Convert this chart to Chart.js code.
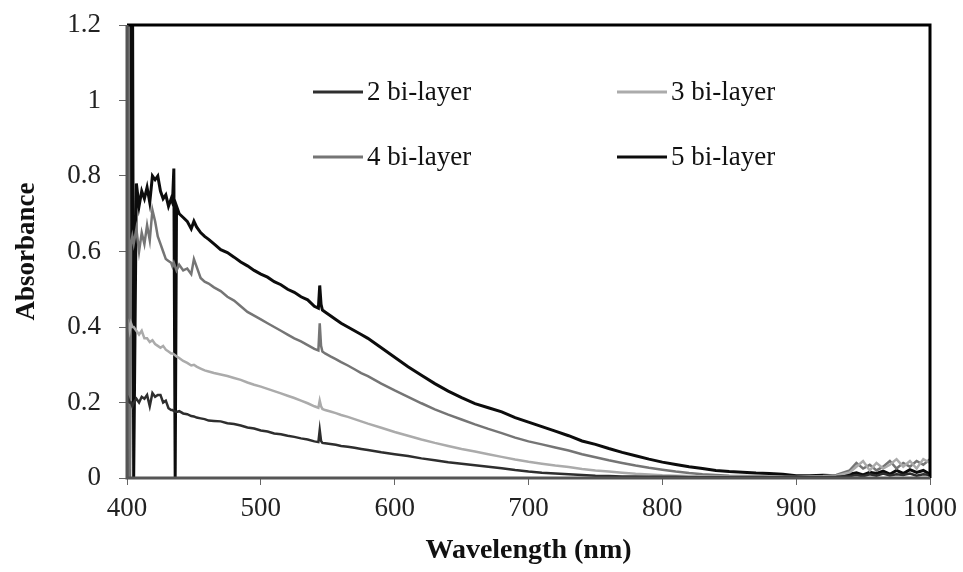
<!DOCTYPE html>
<html>
<head>
<meta charset="utf-8">
<script src="https://cdn.jsdelivr.net/npm/chart.js@4"></script>
<style>
  body { margin: 0; background: #fff; }
  canvas { display: block; }
</style>
</head>
<body>
<canvas id="chart" width="963" height="572"></canvas>
<script>
// Absorbance spectra of multilayer films, 400-1000 nm
const wavelength = [
    400, 401, 402, 403, 404, 405, 407, 409, 411, 413,
    415, 417, 419, 421, 423, 425, 427, 429, 431, 433,
    434, 435, 436, 437, 439, 442, 445, 448, 450, 452,
    455, 458, 461, 465, 470, 475, 480, 485, 490, 495,
    500, 505, 510, 515, 520, 525, 530, 535, 540, 543,
    544, 545, 546, 548, 552, 556, 560, 565, 570, 575,
    580, 590, 600, 610, 620, 630, 640, 650, 660, 670,
    680, 690, 700, 710, 720, 730, 740, 750, 760, 770,
    780, 790, 800, 810, 820, 830, 840, 850, 860, 870,
    880, 890, 900, 910, 920, 930, 940, 945, 950, 955,
    960, 965, 970, 975, 980, 985, 990, 995, 1000
];

const bilayer2 = [
    0.20, 0.21, 0.20, 0.20, 0.19, 0.20, 0.21, 0.20, 0.215, 0.21,
    0.22, 0.19, 0.225, 0.215, 0.22, 0.22, 0.20, 0.205, 0.185, 0.18,
    0.18, 0.178, 0.176, 0.175, 0.177, 0.171, 0.169, 0.164, 0.163, 0.16,
    0.158, 0.156, 0.152, 0.151, 0.150, 0.145, 0.143, 0.139, 0.134, 0.131,
    0.126, 0.123, 0.118, 0.116, 0.112, 0.109, 0.105, 0.102, 0.097, 0.095,
    0.127, 0.098, 0.093, 0.092, 0.090, 0.088, 0.085, 0.083, 0.080, 0.077,
    0.074, 0.068, 0.063, 0.058, 0.052, 0.047, 0.042, 0.038, 0.034, 0.030,
    0.026, 0.021, 0.017, 0.014, 0.012, 0.010, 0.008, 0.006, 0.005, 0.004,
    0.004, 0.003, 0.003, 0.003, 0.002, 0.002, 0.002, 0.002, 0.002, 0.002,
    0.002, 0.002, 0.002, 0.002, 0.002, 0.003, 0.005, 0.008, 0.005, 0.010,
    0.006, 0.012, 0.007, 0.010, 0.008, 0.012, 0.006, 0.010, 0.008
];

const bilayer3 = [
    0.40, 0.41, 0.39, 0.41, 0.40, 0.40, 0.39, 0.38, 0.39, 0.37,
    0.37, 0.36, 0.365, 0.355, 0.35, 0.345, 0.35, 0.34, 0.335, 0.33,
    0.33, 0.328, 0.325, 0.322, 0.318, 0.31, 0.305, 0.298, 0.30, 0.295,
    0.29, 0.285, 0.282, 0.278, 0.274, 0.27, 0.265, 0.26, 0.253, 0.247,
    0.242, 0.236, 0.23, 0.224, 0.218, 0.212, 0.205, 0.198, 0.19, 0.186,
    0.205, 0.19, 0.183, 0.18, 0.176, 0.172, 0.167, 0.162, 0.156, 0.15,
    0.144, 0.133, 0.122, 0.112, 0.102, 0.093, 0.085, 0.077, 0.070, 0.063,
    0.056, 0.049, 0.043, 0.038, 0.033, 0.029, 0.024, 0.020, 0.017, 0.014,
    0.011, 0.009, 0.007, 0.006, 0.005, 0.004, 0.004, 0.003, 0.003, 0.003,
    0.003, 0.002, 0.002, 0.003, 0.004, 0.006, 0.015, 0.030, 0.045, 0.020,
    0.040, 0.025, 0.035, 0.050, 0.030, 0.045, 0.025, 0.050, 0.040
];

const bilayer4 = [
    0.0, 1.5, 0.0, 0.62, 0.64, 0.62, 0.66, 0.60, 0.65, 0.62,
    0.67, 0.63, 0.71, 0.68, 0.64, 0.62, 0.60, 0.58, 0.575, 0.57,
    0.56, 0.57, 0.56, 0.55, 0.565, 0.55, 0.555, 0.54, 0.58, 0.56,
    0.53, 0.52, 0.515, 0.505, 0.495, 0.48, 0.47, 0.455, 0.44, 0.43,
    0.42, 0.41, 0.40, 0.39, 0.38, 0.37, 0.362, 0.352, 0.342, 0.338,
    0.41, 0.35, 0.335, 0.33, 0.322, 0.315, 0.307, 0.298, 0.288, 0.278,
    0.27, 0.25, 0.232, 0.215, 0.198, 0.182, 0.168, 0.155, 0.142, 0.13,
    0.119, 0.107, 0.097, 0.089, 0.081, 0.073, 0.063, 0.055, 0.047, 0.040,
    0.033, 0.027, 0.022, 0.017, 0.013, 0.010, 0.008, 0.006, 0.005, 0.005,
    0.004, 0.004, 0.003, 0.004, 0.005, 0.008, 0.020, 0.040, 0.025, 0.035,
    0.020, 0.030, 0.045, 0.025, 0.040, 0.030, 0.045, 0.035, 0.050
];

const bilayer5 = [
    0.86, 0.74, 0.0, 1.5, 1.5, 0.0, 0.78, 0.72, 0.76, 0.74,
    0.77, 0.73, 0.80, 0.79, 0.80, 0.76, 0.74, 0.75, 0.72, 0.74,
    0.73, 0.82, 0.0, 0.72, 0.70, 0.69, 0.68, 0.66, 0.68, 0.665,
    0.65, 0.64, 0.632, 0.62, 0.605, 0.597, 0.585, 0.572, 0.562, 0.55,
    0.54, 0.532, 0.52, 0.512, 0.50, 0.492, 0.48, 0.472, 0.455, 0.45,
    0.51, 0.46, 0.445, 0.44, 0.43, 0.42, 0.41, 0.40, 0.39, 0.38,
    0.37, 0.345, 0.32, 0.295, 0.272, 0.25, 0.23, 0.213, 0.197, 0.186,
    0.175, 0.16, 0.148, 0.136, 0.124, 0.112, 0.098, 0.089, 0.078, 0.068,
    0.059, 0.050, 0.042, 0.036, 0.030, 0.025, 0.020, 0.017, 0.015, 0.013,
    0.012, 0.010, 0.006, 0.006, 0.007, 0.006, 0.010, 0.014, 0.008, 0.015,
    0.012, 0.018, 0.010, 0.020, 0.012, 0.022, 0.015, 0.020, 0.010
];

const seriesLabels = ['2 bi-layer', '3 bi-layer', '4 bi-layer', '5 bi-layer'];
const seriesValues = [bilayer2, bilayer3, bilayer4, bilayer5];
const seriesColors = ['#2e2e2e', '#ababab', '#757575', '#0c0c0c'];
const seriesWidths = [2.5, 2.5, 2.5, 3];

const yTicks = [0, 0.2, 0.4, 0.6, 0.8, 1, 1.2];

const serif = "'Liberation Serif', 'Times New Roman', serif";

// Legend drawn inside the plot, two columns
const insideLegend = {
    id: 'insideLegend',
    afterDraw(chart) {
        const ctx = chart.ctx;
        const spots = [
            { x: 313, y: 92 }, { x: 617, y: 92 },
            { x: 313, y: 157 }, { x: 617, y: 157 }
        ];
        ctx.save();
        ctx.font = '27px ' + serif;
        ctx.textBaseline = 'middle';
        ctx.textAlign = 'left';
        chart.data.datasets.forEach(function (ds, i) {
            const s = spots[i];
            ctx.beginPath();
            ctx.strokeStyle = ds.borderColor;
            ctx.lineWidth = 3;
            ctx.moveTo(s.x, s.y);
            ctx.lineTo(s.x + 50, s.y);
            ctx.stroke();
            ctx.fillStyle = '#111';
            ctx.fillText(ds.label, s.x + 54, s.y + 1);
        });
        ctx.restore();
    }
};

// Frame: black top/right, grey axes left/bottom
const plotFrame = {
    id: 'plotFrame',
    afterDatasetsDraw(chart) {
        const a = chart.chartArea;
        const ctx = chart.ctx;
        ctx.save();
        ctx.lineWidth = 3;
        ctx.strokeStyle = '#000';
        ctx.beginPath();
        ctx.moveTo(a.left, a.top);
        ctx.lineTo(a.right, a.top);
        ctx.lineTo(a.right, a.bottom);
        ctx.stroke();
        ctx.strokeStyle = '#555';
        ctx.beginPath();
        ctx.moveTo(a.left, a.top);
        ctx.lineTo(a.left, a.bottom);
        ctx.lineTo(a.right, a.bottom);
        ctx.stroke();
        ctx.restore();
    }
};

new Chart(document.getElementById('chart'), {
    type: 'scatter',
    data: {
        datasets: seriesValues.map(function (vals, i) {
            return {
                label: seriesLabels[i],
                data: wavelength.map(function (w, j) { return { x: w, y: vals[j] }; }),
                showLine: true,
                borderColor: seriesColors[i],
                backgroundColor: seriesColors[i],
                borderWidth: seriesWidths[i],
                pointRadius: 0,
                tension: 0
            };
        })
    },
    options: {
        responsive: false,
        animation: false,
        layout: { padding: { top: 25, right: 33, left: 0, bottom: 0 } },
        plugins: {
            legend: { display: false },
            tooltip: { enabled: false }
        },
        scales: {
            x: {
                type: 'linear',
                min: 400,
                max: 1000,
                afterFit: function (scale) {
                    scale.height = 94;
                    scale.paddingLeft = 0;
                    scale.paddingRight = 0;
                },
                ticks: {
                    stepSize: 100,
                    color: '#222',
                    padding: 8,
                    font: { family: serif, size: 27 },
                    callback: function (v) { return String(v); }
                },
                grid: { drawOnChartArea: false, tickLength: 7, color: '#666' },
                border: { display: false },
                title: {
                    display: true,
                    text: 'Wavelength (nm)',
                    color: '#111',
                    font: { family: serif, size: 28, weight: 'bold' },
                    padding: { bottom: 4 }
                }
            },
            y: {
                min: 0,
                max: 1.2,
                afterFit: function (scale) {
                    scale.width = 127;
                    scale.paddingTop = 0;
                    scale.paddingBottom = 0;
                },
                afterBuildTicks: function (scale) {
                    scale.ticks = yTicks.map(function (v) { return { value: v }; });
                },
                ticks: {
                    color: '#222',
                    padding: 18,
                    font: { family: serif, size: 27 },
                    callback: function (v) { return String(Math.round(v * 10) / 10); }
                },
                grid: { drawOnChartArea: false, tickLength: 8, color: '#666' },
                border: { display: false },
                title: {
                    display: true,
                    text: 'Absorbance',
                    color: '#111',
                    font: { family: serif, size: 27, weight: 'bold' },
                    padding: { top: 11 }
                }
            }
        }
    },
    plugins: [plotFrame, insideLegend]
});
</script>
</body>
</html>
